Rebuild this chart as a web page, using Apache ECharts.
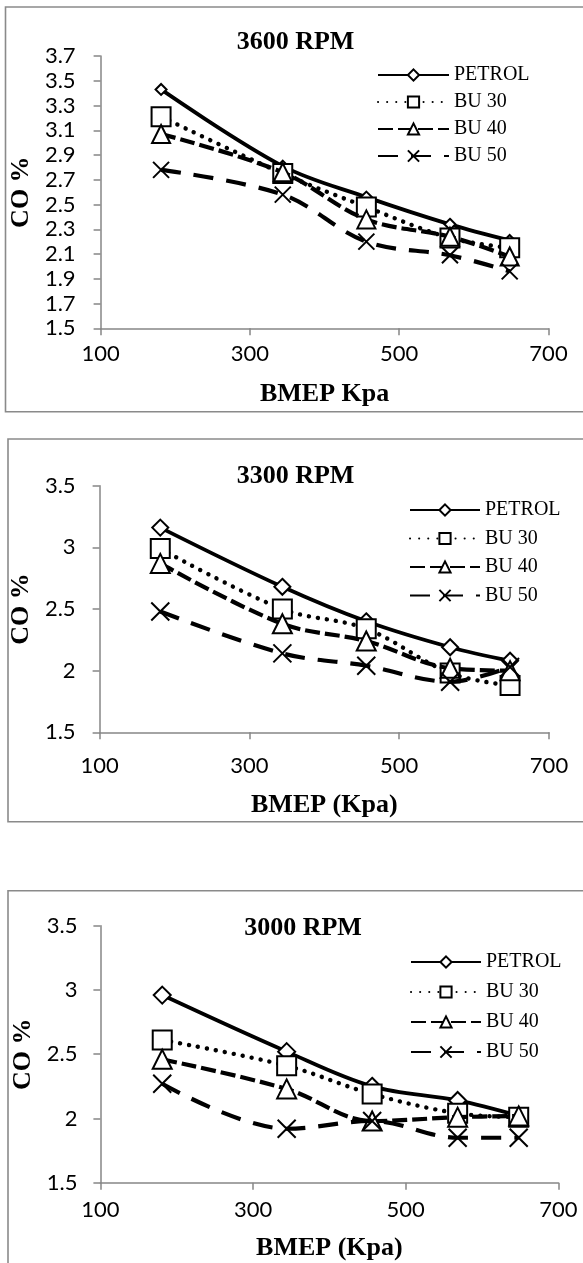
<!DOCTYPE html>
<html>
<head>
<meta charset="utf-8">
<script src="https://cdn.jsdelivr.net/npm/echarts@6/dist/echarts.min.js"></script>
<style>
  html, body { margin: 0; padding: 0; background: #fff; overflow: hidden; }
  #chart { width: 583px; height: 1263px; }
</style>
</head>
<body>
<div id="chart"></div>
<script>
// Brake mean effective pressure (kPa) at which CO was measured
const BMEP = [181, 344, 456, 568, 648];

// Fuel blends and engine speeds
const FUELS = ['PETROL', 'BU 30', 'BU 40', 'BU 50'];
const SPEEDS = ['3600 RPM', '3300 RPM', '3000 RPM'];
const X_NAMES = ['BMEP Kpa', 'BMEP (Kpa)', 'BMEP (Kpa)'];
const Y_NAME = 'CO %';

// Axis ranges: [min, max, interval]
const X_RANGE = [100, 700, 200];
const Y_RANGE_3600 = [1.5, 3.7, 0.2];
const Y_RANGE_3300 = [1.5, 3.5, 0.5];
const Y_RANGE_3000 = [1.5, 3.5, 0.5];

// CO (%) at 3600 RPM
const PETROL_3600 = [3.43, 2.81, 2.56, 2.34, 2.21];
const BU30_3600   = [3.21, 2.75, 2.48, 2.23, 2.15];
const BU40_3600   = [3.07, 2.76, 2.38, 2.24, 2.08];
const BU50_3600   = [2.78, 2.58, 2.20, 2.09, 1.96];

// CO (%) at 3300 RPM
const PETROL_3300 = [3.16, 2.68, 2.40, 2.19, 2.08];
const BU30_3300   = [2.99, 2.50, 2.34, 1.98, 1.88];
const BU40_3300   = [2.87, 2.38, 2.24, 2.02, 2.00];
const BU50_3300   = [2.48, 2.14, 2.04, 1.91, 2.03];

// CO (%) at 3000 RPM
const PETROL_3000 = [2.96, 2.52, 2.25, 2.14, 2.02];
const BU30_3000   = [2.61, 2.41, 2.19, 2.04, 2.01];
const BU40_3000   = [2.46, 2.23, 1.98, 2.01, 2.02];
const BU50_3000   = [2.27, 1.92, 1.98, 1.85, 1.85];

const PANEL_DATA = [
  [PETROL_3600, BU30_3600, BU40_3600, BU50_3600],
  [PETROL_3300, BU30_3300, BU40_3300, BU50_3300],
  [PETROL_3000, BU30_3000, BU40_3000, BU50_3000]
];
const Y_RANGES = [Y_RANGE_3600, Y_RANGE_3300, Y_RANGE_3000];

// Placement of each panel on the page (pixels)
const LAYOUT = [
  { frame: [5.5, 7, 700, 404.7], grid: { left: 100.4, top: 56, right: 34.5, height: 272.3 },
    title: [295.5, 42], xLabelGap: 15, xNameGap: 53, yLabelGap: 25, yNameGap: 57,
    legend: { left: 377, top: 65, itemWidth: 71, gap: 7 }, sizes: [11, 19, 18, 16] },
  { frame: [8, 439, 700, 382.7], grid: { left: 93, top: 485.7, right: 34, height: 246.6 },
    title: [295.5, 476], xLabelGap: 23, xNameGap: 60, yLabelGap: 24, yNameGap: 50,
    legend: { left: 409, top: 500, itemWidth: 70, gap: 8.5 }, sizes: [16, 19, 19, 18] },
  { frame: [8, 890.7, 700, 500], grid: { left: 100.4, top: 925.7, right: 24.6, height: 257 },
    title: [303, 928.3], xLabelGap: 16, xNameGap: 53, yLabelGap: 23, yNameGap: 57,
    legend: { left: 410, top: 952, itemWidth: 70, gap: 10 }, sizes: [17, 19, 19, 18] }
];

const SERIF = '"Liberation Serif", "Times New Roman", serif';
const SANS = 'Lato, "Open Sans", sans-serif';
const AXIS_GREY = '#868686';

const MARKERS = ['diamond', 'rect', 'triangle', 'path://M0,0L10,10M10,0L0,10'];
const LINES = [
  { type: 'solid', width: 3.8 },
  { type: [0.1, 9], width: 4.4, cap: 'round' },
  { type: [15, 5], width: 4.2 },
  { type: [20, 13], width: 4.2 }
];

const grids = [], xAxes = [], yAxes = [], series = [], legends = [], graphics = [];

LAYOUT.forEach((p, i) => {
  grids.push(Object.assign({ containLabel: false }, p.grid));

  xAxes.push({
    gridIndex: i, type: 'value',
    min: X_RANGE[0], max: X_RANGE[1], interval: X_RANGE[2],
    name: X_NAMES[i], nameLocation: 'middle', nameGap: p.xNameGap,
    nameTextStyle: { fontFamily: SERIF, fontWeight: 'bold', fontSize: 26, color: '#000' },
    axisLine: { show: true, lineStyle: { color: AXIS_GREY, width: 1.5 } },
    axisTick: { show: true, inside: false, length: 7, lineStyle: { color: AXIS_GREY, width: 1.5 } },
    axisLabel: { margin: p.xLabelGap, fontFamily: SANS, fontSize: 22, color: '#000' },
    splitLine: { show: false }
  });

  const yr = Y_RANGES[i];
  yAxes.push({
    gridIndex: i, type: 'value',
    min: yr[0], max: yr[1], interval: yr[2],
    name: Y_NAME, nameLocation: 'middle', nameGap: p.yNameGap,
    nameTextStyle: { fontFamily: SERIF, fontWeight: 'bold', fontSize: 26, color: '#000' },
    axisLine: { show: true, lineStyle: { color: AXIS_GREY, width: 1.5 } },
    axisTick: { show: true, inside: false, length: 7, lineStyle: { color: AXIS_GREY, width: 1.5 } },
    axisLabel: { margin: p.yLabelGap, fontFamily: SANS, fontSize: 22, color: '#000' },
    splitLine: { show: false }
  });

  FUELS.forEach((fuel, k) => {
    series.push({
      name: fuel, type: 'line', xAxisIndex: i, yAxisIndex: i,
      data: BMEP.map((b, j) => [b, PANEL_DATA[i][k][j]]),
      smooth: 0.35,
      symbol: MARKERS[k], symbolSize: p.sizes[k], showAllSymbol: true,
      lineStyle: Object.assign({ color: '#000' }, LINES[k]),
      itemStyle: { color: k === 3 ? 'rgba(0,0,0,0)' : '#fff', borderColor: '#000', borderWidth: 2 },
      emphasis: { disabled: true },
      z: 2 + k
    });
  });

  legends.push({
    orient: 'vertical', left: p.legend.left, top: p.legend.top,
    itemWidth: p.legend.itemWidth, itemHeight: 14, itemGap: p.legend.gap,
    padding: 0,
    data: FUELS,
    textStyle: { fontFamily: SERIF, fontSize: 20, color: '#000', lineHeight: 20, padding: [0, 0, 0, 0] },
    selectedMode: false
  });

  graphics.push({
    type: 'rect', z: 0, silent: true,
    shape: { x: p.frame[0], y: p.frame[1], width: p.frame[2], height: p.frame[3] },
    style: { fill: 'none', stroke: '#8a8a8a', lineWidth: 1.6 }
  });
  graphics.push({
    type: 'text', z: 10, silent: true,
    style: {
      x: p.title[0], y: p.title[1], text: SPEEDS[i],
      textAlign: 'center', textVerticalAlign: 'middle',
      font: 'bold 26px ' + SERIF, fill: '#000'
    }
  });
});

const chart = echarts.init(document.getElementById('chart'), null, { renderer: 'canvas' });
chart.setOption({
  animation: false,
  backgroundColor: '#fff',
  grid: grids,
  xAxis: xAxes,
  yAxis: yAxes,
  legend: legends,
  graphic: graphics,
  series: series
});
</script>
</body>
</html>
